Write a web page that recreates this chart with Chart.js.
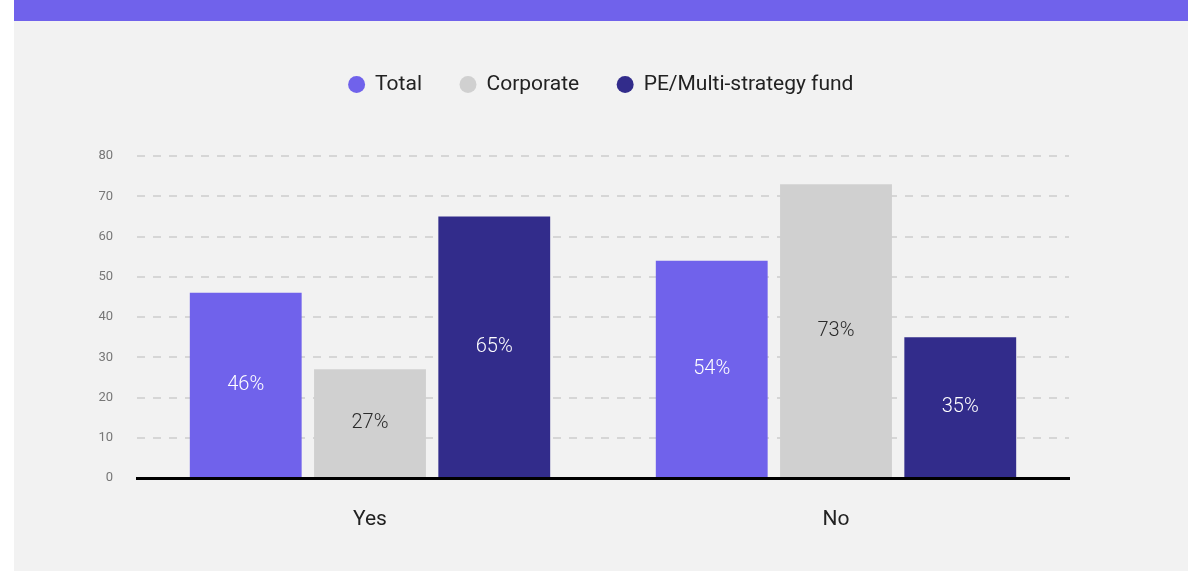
<!DOCTYPE html>
<html>
<head>
<meta charset="utf-8">
<script src="https://cdn.jsdelivr.net/npm/chart.js@4"></script>
<style>
  html, body { margin: 0; padding: 0; background: #fff; }
  .panel {
    position: absolute; left: 14px; top: 0; width: 1174px; height: 571px;
    background: #f2f2f2; border-top: 21px solid #7062eb; box-sizing: border-box;
  }
  .chart-wrap { position: relative; width: 1174px; height: 550px; }
</style>
</head>
<body>
<div class="panel">
  <div class="chart-wrap"><canvas id="chart"></canvas></div>
</div>
<script>
const categories = ["Yes", "No"]
const seriesNames = ["Total", "Corporate", "PE/Multi-strategy fund"]
const totalValues = [46, 54]
const corporateValues = [27, 73]
const peValues = [65, 35]
const yTicks = [0, 10, 20, 30, 40, 50, 60, 70, 80]

const colors = ["#7062eb", "#d0d0d0", "#322c8b"]
const labelColors = ["#ffffff", "#2a2a2a", "#ffffff"]

Chart.defaults.font.family = "Roboto, 'Noto Sans', sans-serif"

// percentage text in the middle of each bar
const barLabels = {
  id: "barLabels",
  afterDatasetsDraw(chart) {
    const ctx = chart.ctx
    ctx.save()
    ctx.font = "300 20px Roboto, 'Noto Sans', sans-serif"
    ctx.textAlign = "center"
    ctx.textBaseline = "middle"
    chart.data.datasets.forEach((ds, i) => {
      chart.getDatasetMeta(i).data.forEach((bar, j) => {
        ctx.fillStyle = labelColors[i]
        ctx.fillText(ds.data[j] + "%", bar.x, (bar.y + bar.base) / 2)
      })
    })
    ctx.restore()
  }
}

const ctx = document.getElementById("chart").getContext("2d")
new Chart(ctx, {
  type: "bar",
  data: {
    labels: categories,
    datasets: [totalValues, corporateValues, peValues].map((vals, i) => ({
      label: seriesNames[i],
      data: vals,
      backgroundColor: colors[i],
      borderWidth: 0
    }))
  },
  options: {
    responsive: true,
    maintainAspectRatio: false,
    animation: false,
    layout: { padding: { top: 15, right: 0, bottom: 0, left: 0 } },
    plugins: {
      tooltip: { enabled: false },
      legend: {
        position: "top",
        labels: {
          usePointStyle: true,
          pointStyle: "circle",
          boxWidth: 16,
          boxHeight: 12,
          padding: 38,
          color: "#222",
          font: { size: 21 }
        }
      },
      // blank title sitting under the legend, used as a spacer
      title: {
        display: true,
        text: "",
        weight: 500,
        padding: { top: 0, bottom: 32 },
        font: { size: 19, lineHeight: 1 }
      }
    },
    scales: {
      x: {
        grid: { display: false, drawTicks: false },
        border: { display: true, color: "#000", width: 3 },
        ticks: { color: "#222", font: { size: 21 }, padding: 29 },
        afterFit(scale) { scale.height = 93 }
      },
      y: {
        min: 0,
        max: 80,
        afterBuildTicks(scale) { scale.ticks = yTicks.map(v => ({ value: v })) },
        grid: { color: "#d6d6d6", lineWidth: 2, drawTicks: false },
        border: { display: false, dash: [8, 8] },
        ticks: { color: "#777", font: { size: 13 }, padding: 24 },
        afterFit(scale) { scale.width = 123 }
      },
      // empty right-hand axis, only keeps the plot clear of the right edge
      spacer: {
        type: "linear",
        position: "right",
        grid: { display: false, drawTicks: false },
        border: { display: false },
        ticks: { display: false },
        afterFit(scale) { scale.width = 119 }
      }
    }
  },
  plugins: [barLabels]
})
</script>
</body>
</html>
